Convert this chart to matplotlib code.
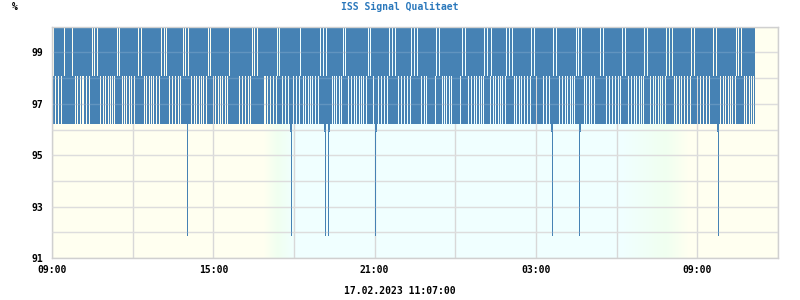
import numpy as np
import matplotlib
matplotlib.use("Agg")
import matplotlib.pyplot as plt
from matplotlib.colors import to_rgb

# ---- data ----
# one code per sample (about 2.23 min each), starting 09:02 on 16.02.
# F: 96.2-100, T: 98.1-100, B: 96.2-98.1, D: 95.9-100, X: 91.85-100
codes = (
    "BFTFFTFFTF FBFFFFFFFB FFTFTFFTFT TFFTFFTFFB FBFFBFFTFF "
    "TFTFFTFTFT FTFFBFBFFT FTFTFFTFTF FTFFFBFFBF FTFTFFTFTF "
    "TFFTFFTFBF FBFBFFTFFT FFTFFTFTFF BFBFXBFFTF FTFTFFTFTF "
    "TFFTFBFBFF TFTFFTFTFT FFTFTFBFFF FFFFFFTFFT FFTFFTFTFB "
    "FBFFBFFFFF FTTFTFFTFF TFFTBFBFFT FFTFFTFDXF TFFTFFTBFF "
    "TFTFFTFTFT FFTFFTFBFF BDXBFXDFFT FTFTFFTFTF BFBFFTFFTF "
    "FTFTFFTFTF TFFTFBFBFF TFXDFTFFTF FTFFTFBFFB FFBFFTFFTF "
    "FTFFTFFTBF FBFFBFFFTF FTFTFFFFFF FFTBFFBFFT FTFTFFTFTF "
    "FFFFFFFTFB FFBFFTFFTF FTFTFFTFTF TBFFBFFTBF TFTFFTFTFT "
    "FFTBFFBFFB FTFTFFTFTF FTFFTFFTBF FBFTFFFFFF TFFTFFTFDX "
    "BFFBFFTFFT FFTFTFFTFT FTFBFBXDBF FTFTFFTFTF FTFFFFFBFF "
    "BFFTFFTFFT FFTFFTFTFB FFBFFTFFTF FTFTFFTFTF TBFFBFFTFF "
    "TFTFFTFTFT FFTBFFBFFB FTFTFFTFTF FTFFTFFTBF FBFFTFFTFF "
    "TFFTFFTFFF BFFBDXFTFF TFTFFTFTFT FFTBFBFFBF FTFTFFTFTF "
    "TF"
).replace(" ", "")

levels = {
    "F": (96.2, 100.0),
    "T": (98.1, 100.0),
    "B": (96.2, 98.1),
    "D": (95.9, 100.0),
    "X": (91.85, 100.0),
}

step = 1620 / 726          # minutes per sample
first_sample = 1 * step    # first sample right after 09:00

x_ticks = [0, 360, 720, 1080, 1440]
x_labels = ["09:00", "15:00", "21:00", "03:00", "09:00"]
y_ticks = [91, 93, 95, 97, 99]
title = "ISS Signal Qualitaet"
stamp = "17.02.2023 11:07:00"

# day / night background stops (minutes after 09:00)
bg_pos = [0, 473, 503, 542, 1276, 1370, 1420, 1620]
bg_col = ["ivory", "ivory", "honeydew", "azure", "azure", "honeydew", "ivory", "ivory"]

font = "DejaVu Sans Mono"
bar_color = "#4682b4"
grid_color = "#d8d8d8"

fig = plt.figure(figsize=(8, 3), dpi=100)
ax = fig.add_axes([52 / 800, 42 / 300, 726 / 800, 231.3 / 300])

# background gradient
xs = np.linspace(0, 1620, 726)
rgb = np.array([to_rgb(c) for c in bg_col])
grad = np.stack([np.interp(xs, bg_pos, rgb[:, k]) for k in range(3)], axis=-1)
ax.imshow(grad[np.newaxis, :, :], extent=[0, 1620, 91, 100], aspect="auto",
          zorder=0, interpolation="nearest")

# grid behind the bars
for v in range(91, 101):
    ax.axhline(v, color=grid_color, lw=1, zorder=1)
for m in range(0, 1621, 180):
    ax.axvline(m, color=grid_color, lw=1, zorder=1)

lo = np.array([levels[c][0] for c in codes])
hi = np.array([levels[c][1] for c in codes])
x = first_sample + step * np.arange(len(codes))
ax.bar(x, hi - lo, bottom=lo, width=step, align="edge", color=bar_color,
       linewidth=0, antialiased=False, zorder=2)

# faint grid over the bars
for v in range(92, 100):
    ax.axhline(v, color="white", lw=1, alpha=0.15, zorder=3)

ax.set_xlim(0, 1620)
ax.set_ylim(91, 100)
ax.set_xticks(x_ticks)
ax.set_xticklabels(x_labels)
ax.set_yticks(y_ticks)
ax.set_yticklabels([str(v) for v in y_ticks])
ax.tick_params(length=0, labelsize=7)
ax.tick_params(axis="y", pad=6)
ax.tick_params(axis="x", pad=5)
for lab in ax.get_xticklabels() + ax.get_yticklabels():
    lab.set_fontfamily(font)
    lab.set_fontweight("bold")
for sp in ax.spines.values():
    sp.set_color("#d0d0d0")
    sp.set_linewidth(1)

fig.text(0.5, 0.992, title, ha="center", va="top", fontsize=7,
         fontweight="bold", family=font, color="#2a78bc")
fig.text(12 / 800, 0.992, "%", ha="left", va="top", fontsize=7,
         fontweight="bold", family=font)
fig.text(0.5, 1 - 291.5 / 300, stamp, ha="center", va="center", fontsize=7,
         fontweight="bold", family=font)

fig.savefig("out.png", dpi=100)
